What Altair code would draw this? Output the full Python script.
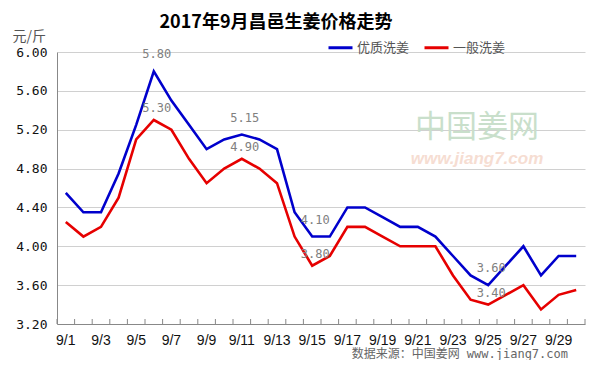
import altair as alt
import pandas as pd

dates = ["9/1", "9/2", "9/3", "9/4", "9/5", "9/6", "9/7", "9/8", "9/9", "9/10",
         "9/11", "9/12", "9/13", "9/14", "9/15", "9/16", "9/17", "9/18", "9/19", "9/20",
         "9/21", "9/22", "9/23", "9/24", "9/25", "9/26", "9/27", "9/28", "9/29", "9/30"]
premium = [4.55, 4.35, 4.35, 4.75, 5.25, 5.80, 5.50, 5.25, 5.00, 5.10,
           5.15, 5.10, 5.00, 4.35, 4.10, 4.10, 4.40, 4.40, 4.30, 4.20,
           4.20, 4.10, 3.90, 3.70, 3.60, 3.80, 4.00, 3.70, 3.90, 3.90]
regular = [4.25, 4.10, 4.20, 4.50, 5.10, 5.30, 5.20, 4.90, 4.65, 4.80,
           4.90, 4.80, 4.65, 4.10, 3.80, 3.90, 4.20, 4.20, 4.10, 4.00,
           4.00, 4.00, 3.70, 3.45, 3.40, 3.50, 3.60, 3.35, 3.50, 3.55]
series_names = ["优质洗姜", "一般洗姜"]
series_colors = ["#0000cc", "#e60000"]
label_dates = ["9/6", "9/11", "9/15", "9/25"]
x_label_dates = ["9/1", "9/3", "9/5", "9/7", "9/9", "9/11", "9/13", "9/15",
                 "9/17", "9/19", "9/21", "9/23", "9/25", "9/27", "9/29"]
y_ticks = [3.2, 3.6, 4.0, 4.4, 4.8, 5.2, 5.6, 6.0]
title_text = ["2017年9月昌邑生姜价格走势"]
footer_text = ["数据来源：中国姜网 www.jiang7.com"]
wm_cn = ["中国姜网"]
wm_url = ["www.jiang7.com"]

rows = []
for d, p, r in zip(dates, premium, regular):
    rows.append({"date": d, "series": series_names[0], "price": p})
    rows.append({"date": d, "series": series_names[1], "price": r})
df = pd.DataFrame(rows)
lab = df[df["date"].isin(label_dates)].copy()
lab["label"] = lab["price"].map(lambda v: f"{v:.2f}")

MONO = "DejaVu Sans Mono, Noto Sans CJK SC"
CJK = "Noto Sans CJK SC"

x_enc = alt.X("date:N", sort=dates,
              scale=alt.Scale(paddingInner=0, paddingOuter=0),
              axis=alt.Axis(values=x_label_dates, ticks=False, labelAngle=0, title=None,
                            labelPadding=9, domainColor="#888888", grid=False,
                            labelOverlap=False,
                            labelFont="Liberation Sans", labelFontSize=14,
                            labelColor="#111111"))
y_enc = alt.Y("price:Q",
              scale=alt.Scale(domain=[3.2, 6.0], nice=False, zero=False),
              axis=alt.Axis(values=y_ticks, tickCount=20, format=".2f", ticks=False,
                            labelOverlap=False,
                            title="元/斤", titleAngle=0, titleAlign="left",
                            titleBaseline="bottom", titleX=-45, titleY=-9,
                            titleFont=CJK, titleFontSize=14, titleFontWeight="normal",
                            titleColor="#555555", gridColor="#d0d0d0",
                            domainColor="#888888", labelPadding=10,
                            labelFont=MONO, labelFontSize=13, labelColor="#111111"))

base = alt.Chart(df)

wm1 = alt.Chart(pd.DataFrame({"t": wm_cn})).mark_text(
    font=CJK, fontSize=31, color="#c9dfcb", align="center", baseline="alphabetic"
).encode(text="t:N", x=alt.value(420), y=alt.value(85))
wm2 = alt.Chart(pd.DataFrame({"t": wm_url})).mark_text(
    font="Liberation Sans", fontSize=17, fontStyle="italic", fontWeight="bold",
    color="#f6ddd2", align="center", baseline="alphabetic"
).encode(text="t:N", x=alt.value(420), y=alt.value(112))

ticks = alt.Chart(pd.DataFrame({"date": dates})).mark_rule(color="#888888").encode(
    x=alt.X("date:N", sort=dates, bandPosition=0), y=alt.value(272), y2=alt.value(267))
end_tick = alt.Chart(pd.DataFrame({"date": dates[-1:]})).mark_rule(color="#888888").encode(
    x=alt.X("date:N", sort=dates, bandPosition=1), y=alt.value(272), y2=alt.value(267))

lines = base.mark_line(strokeWidth=2.6).encode(
    x=x_enc, y=y_enc,
    color=alt.Color("series:N", sort=series_names,
                    scale=alt.Scale(domain=series_names, range=series_colors),
                    legend=alt.Legend(orient="none", legendX=270, legendY=-18,
                                      direction="horizontal", title=None,
                                      symbolType="stroke", symbolStrokeWidth=3,
                                      symbolSize=576, labelFont=CJK, labelFontSize=13,
                                      labelColor="#555555", labelOffset=3,
                                      columnPadding=8, padding=0)),
    order=alt.Order("series:N"))

txt_p = alt.Chart(lab[lab["series"] == series_names[0]]).mark_text(
    font=MONO, fontSize=12, color="#808080", baseline="bottom", dy=-10, dx=3
).encode(x=alt.X("date:N", sort=dates), y="price:Q", text="label:N")
txt_r = alt.Chart(lab[lab["series"] == series_names[1]]).mark_text(
    font=MONO, fontSize=12, color="#808080", baseline="bottom", dy=-5, dx=3
).encode(x=alt.X("date:N", sort=dates), y="price:Q", text="label:N")

title = alt.Chart(pd.DataFrame({"t": title_text})).mark_text(
    font=CJK, fontSize=18, fontWeight="bold", color="#000000", align="center",
    baseline="alphabetic"
).encode(text="t:N", x=alt.value(219), y=alt.value(-24))
footer = alt.Chart(pd.DataFrame({"t": footer_text})).mark_text(
    font=MONO, fontSize=12, color="#666666", align="right", baseline="alphabetic"
).encode(text="t:N", x=alt.value(511), y=alt.value(306))

chart = alt.layer(wm1, wm2, lines, ticks, end_tick, txt_p, txt_r, title, footer).properties(
    width=528, height=272,
    autosize=alt.AutoSizeParams(type="none"),
    padding={"left": 49, "top": 44, "right": 7, "bottom": 36},
    background="#ffffff",
).configure_view(stroke=None)

chart.save("out.html", embed_options={"renderer": "svg", "actions": False})
